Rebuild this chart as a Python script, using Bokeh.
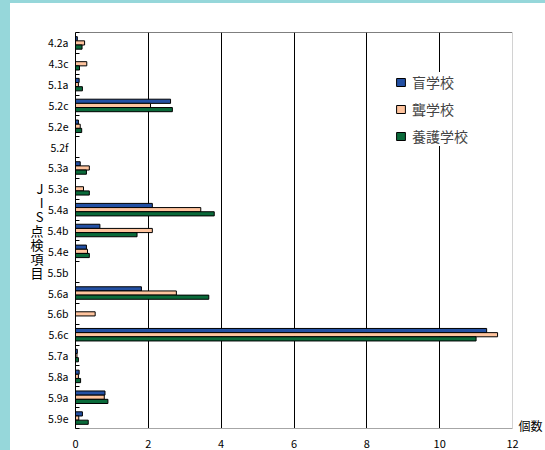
from bokeh.plotting import figure
from bokeh.models import (ColumnDataSource, Range1d, FixedTicker, Legend, LegendItem,
                          Span, LinearAxis, Div)
from bokeh.layouts import column, row
from bokeh.embed import file_html
from bokeh.resources import INLINE

categories = ["4.2a", "4.3c", "5.1a", "5.2c", "5.2e", "5.2f", "5.3a", "5.3e", "5.4a",
              "5.4b", "5.4e", "5.5b", "5.6a", "5.6b", "5.6c", "5.7a", "5.8a", "5.9a", "5.9e"]
blind = [0.05, 0.0, 0.10, 2.61, 0.08, 0.0, 0.13, 0.0, 2.11,
         0.67, 0.30, 0.0, 1.81, 0.0, 11.29, 0.05, 0.10, 0.81, 0.19]
deaf = [0.25, 0.31, 0.08, 2.06, 0.13, 0.0, 0.38, 0.22, 3.44,
        2.11, 0.33, 0.0, 2.77, 0.54, 11.59, 0.04, 0.08, 0.79, 0.09]
care = [0.18, 0.11, 0.19, 2.66, 0.17, 0.0, 0.30, 0.38, 3.81,
        1.69, 0.38, 0.0, 3.66, 0.0, 11.00, 0.08, 0.14, 0.89, 0.35]
series_names = ["盲学校", "聾学校", "養護学校"]
x_ticks = [0, 2, 4, 6, 8, 10, 12]
y_title = "JIS点検項目"
x_unit = "個数"

colors = ["#2350A3", "#FFC49E", "#0A6A3A"]
JP = "Noto Sans CJK JP"
TEAL = "#96D7DA"

n = len(categories)
centers = [i + 0.5 for i in range(n)]

fig = figure(width=535, height=447, output_backend="svg", toolbar_location=None,
             x_range=Range1d(0, 12), y_range=Range1d(n, 0),
             min_border_left=65, min_border_right=33, min_border_top=29, min_border_bottom=22)
fig.background_fill_color = "white"
fig.border_fill_color = "white"
fig.outline_line_color = None

offsets = [-0.2, 0.0, 0.2]
renderers = []
for vals, off, col in zip([blind, deaf, care], offsets, colors):
    src = ColumnDataSource(dict(y=[c + off for c in centers], right=vals))
    r = fig.hbar(y="y", left=0, right="right", height=0.2, source=src,
                 fill_color=col, line_color="black", line_width=1)
    renderers.append(r)

# x axis
xa = fig.xaxis[0]
xa.ticker = FixedTicker(ticks=x_ticks)
xa.major_tick_in = 0
xa.major_tick_out = 0
xa.minor_tick_in = 0
xa.minor_tick_out = 0
xa.axis_line_color = "#A6A6A6"
xa.major_label_text_font = JP
xa.major_label_text_font_size = "11px"
xa.major_label_text_color = "black"
xa.major_label_standoff = 11

# category axis (ticks at band boundaries)
ya = fig.yaxis[0]
ya.ticker = FixedTicker(ticks=centers, minor_ticks=list(range(n + 1)))
ya.major_label_overrides = {c: lab for c, lab in zip(centers, categories)}
ya.major_tick_in = 0
ya.major_tick_out = 0
ya.minor_tick_in = 4
ya.minor_tick_out = 0
ya.minor_tick_line_color = "black"
ya.axis_line_color = "black"
ya.major_label_text_font = JP
ya.major_label_text_font_size = "10.5px"
ya.major_label_text_color = "black"
ya.major_label_standoff = 7
ya.axis_label_standoff = 0

# stacked vertical y-axis title as an outer axis
title_pos = [round(7.5 + 0.672 * k, 3) for k in range(len(y_title))]
ta = LinearAxis(ticker=FixedTicker(ticks=title_pos),
                major_label_overrides={v: ch for v, ch in zip(title_pos, y_title)},
                axis_line_color=None, major_tick_line_color=None, minor_tick_line_color=None,
                major_tick_in=0, major_tick_out=0, minor_tick_in=0, minor_tick_out=0,
                major_label_standoff=1, axis_label_standoff=0, major_label_text_font=JP,
                major_label_text_font_size="13px", major_label_text_color="black")
fig.add_layout(ta, "left")

# unit label on the right
ua = LinearAxis(ticker=FixedTicker(ticks=[18.86]),
                major_label_overrides={18.86: x_unit},
                axis_line_color=None, major_tick_line_color=None, minor_tick_line_color=None,
                major_tick_in=0, major_tick_out=0, minor_tick_in=0, minor_tick_out=0,
                major_label_standoff=6, axis_label_standoff=0, major_label_text_font=JP,
                major_label_text_font_size="12px", major_label_text_color="black")
fig.add_layout(ua, "right")

fig.ygrid.grid_line_color = None
fig.xgrid.ticker = FixedTicker(ticks=[2, 4, 6, 8, 10])
fig.xgrid.grid_line_color = "black"
fig.xgrid.grid_line_width = 1

fig.add_layout(Span(location=0, dimension="width", line_color="black", line_width=1))
fig.add_layout(Span(location=12, dimension="height", line_color="#A6A6A6", line_width=1))

legend = Legend(items=[LegendItem(label=s, renderers=[r]) for s, r in zip(series_names, renderers)],
                location=(320, 282), margin=0, padding=5, spacing=7,
                label_height=20, glyph_height=10, glyph_width=11, label_standoff=6,
                label_text_font=JP, label_text_font_size="14px",
                background_fill_color="white", background_fill_alpha=1.0,
                border_line_color=None)
fig.add_layout(legend)

top_strip = Div(text="", width=545, height=3, margin=0,
                styles={"background-color": TEAL})
left_strip = Div(text="", width=10, height=447, margin=0,
                 styles={"background-color": TEAL})
p = column(top_strip, row(left_strip, fig, spacing=0), spacing=0)

open("out.html", "w").write(file_html(p, INLINE))
